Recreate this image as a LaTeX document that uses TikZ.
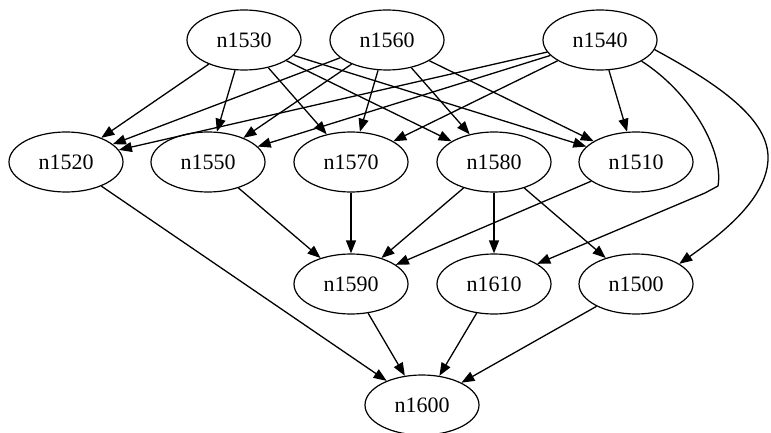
\documentclass[tikz,border=0pt]{standalone}
\usepackage{fontspec}
\setmainfont{Liberation Serif}
\usetikzlibrary{shapes.geometric,arrows.meta}
\tikzset{
  gnode/.style={draw, ellipse, line width=1.2pt, minimum width=114pt, minimum height=60pt, inner sep=0pt,
    font=\fontsize{22}{24}\selectfont},
  edge/.style={line width=1.3pt, -{Triangle[length=13pt,width=10pt]}}
}
\begin{document}
\begin{tikzpicture}[x=1pt,y=-1pt]
\useasboundingbox (0,0) rectangle (771,433);
% top row
\node[gnode] (n1530) at (244,40) {n1530};
\node[gnode] (n1560) at (387,40) {n1560};
\node[gnode] (n1540) at (600,40) {n1540};
% second row
\node[gnode] (n1520) at (66,162) {n1520};
\node[gnode] (n1550) at (208,162) {n1550};
\node[gnode] (n1570) at (351,162) {n1570};
\node[gnode] (n1580) at (494,162) {n1580};
\node[gnode] (n1510) at (636,162) {n1510};
% third row
\node[gnode] (n1590) at (351,284) {n1590};
\node[gnode] (n1610) at (494,284) {n1610};
\node[gnode] (n1500) at (636,284) {n1500};
% bottom
\node[gnode] (n1600) at (422,405) {n1600};

% from n1530
\draw[edge] (n1530) -- (n1520);
\draw[edge] (n1530) -- (n1550);
\draw[edge] (n1530) -- (n1570);
\draw[edge] (n1530) -- (n1580);
\draw[edge] (n1530) -- (n1510);
% from n1560
\draw[edge] (n1560) -- (n1520);
\draw[edge] (n1560) -- (n1550);
\draw[edge] (n1560) -- (n1570);
\draw[edge] (n1560) -- (n1580);
\draw[edge] (n1560) -- (n1510);
% from n1540
\draw[edge] (n1540) -- (n1520);
\draw[edge] (n1540) -- (n1550);
\draw[edge] (n1540) -- (n1570);
\draw[edge] (n1540) -- (n1510);
\coordinate (k1) at (718,186);
\coordinate (k2) at (705,193);
\draw[edge] (n1540.-27) .. controls (690,92) and (724,150) .. (k1) -- (k2) -- (n1610.25);
\coordinate (m1) at (768,160);
\draw[edge] (n1540.-10) .. controls (720,85) and (770,120) .. (m1) .. controls (766,200) and (720,235) .. (n1500.25);
% second row to third
\draw[edge] (n1550) -- (n1590);
\draw[edge] (n1570) -- (n1590);
\draw[edge] (n1580) -- (n1590);
\draw[edge] (n1580) -- (n1610);
\draw[edge] (n1580) -- (n1500);
\draw[edge] (n1510) -- (n1590);
% to bottom
\draw[edge] (n1520) -- (n1600);
\draw[edge] (n1590) -- (n1600);
\draw[edge] (n1610) -- (n1600);
\draw[edge] (n1500) -- (n1600);
\end{tikzpicture}
\end{document}
